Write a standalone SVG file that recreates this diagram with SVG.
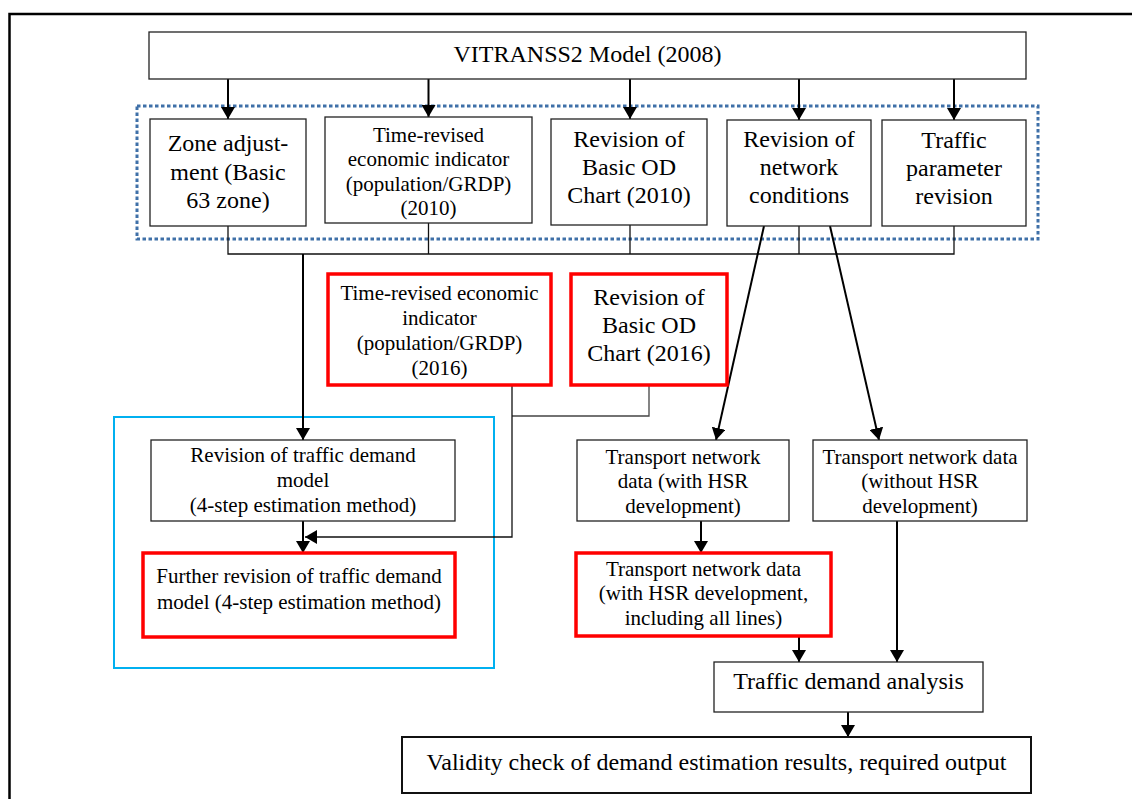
<svg xmlns="http://www.w3.org/2000/svg" width="1132" height="799" viewBox="0 0 1132 799">
<style>
text{font-family:"Liberation Serif","Times New Roman",serif;fill:#000;text-anchor:middle}
.big{font-size:24px}
.mid{font-size:21px}
.box{fill:#fff;stroke:#222;stroke-width:1.3}
.red{fill:#fff;stroke:#ff0000;stroke-width:3.5}
.ln{fill:none;stroke:#000;stroke-width:2}
.thin{fill:none;stroke:#111;stroke-width:1.3}
.gray{fill:none;stroke:#444;stroke-width:1.3}
</style>
<defs>
<marker id="ah" markerUnits="userSpaceOnUse" viewBox="0 0 12 14" refX="12" refY="7" markerWidth="12" markerHeight="14" orient="auto">
<path d="M0,0 L12,7 L0,14 Z" fill="#000"/>
</marker>
</defs>
<rect width="1132" height="799" fill="#fff"/>
<path d="M9.5,799 V14 H1132" fill="none" stroke="#000" stroke-width="2.5"/>
<rect x="137" y="106" width="901" height="133" fill="none" stroke="#3f70a8" stroke-width="3" stroke-dasharray="3.5 2.5"/>
<rect x="114" y="417" width="380" height="251" fill="none" stroke="#00b0f0" stroke-width="2"/>
<g id="connectors">
<path class="ln" d="M228,79 V119" marker-end="url(#ah)"/>
<path class="ln" d="M428.5,79 V117" marker-end="url(#ah)"/>
<path class="ln" d="M630,79 V119" marker-end="url(#ah)"/>
<path class="ln" d="M799,79 V120" marker-end="url(#ah)"/>
<path class="ln" d="M954,79 V120" marker-end="url(#ah)"/>
<path class="thin" d="M228,226 V254 H954 V226 M428.5,223 V254 M630,225 V254 M799,226 V254"/>
<path class="ln" d="M303,254 V440" marker-end="url(#ah)"/>
<path class="ln" d="M764,226 L716,440" marker-end="url(#ah)"/>
<path class="ln" d="M830,226 L879,440" marker-end="url(#ah)"/>
<path class="gray" d="M649,385 V416 H512"/>
<path class="thin" d="M512,385 V537 H305" marker-end="url(#ah)"/>
<path class="ln" d="M303,521 V553" marker-end="url(#ah)"/>
<path class="ln" d="M701,521 V553" marker-end="url(#ah)"/>
<path class="ln" d="M799,636 V662" marker-end="url(#ah)"/>
<path class="ln" d="M897,521 V662" marker-end="url(#ah)"/>
<path class="ln" d="M848,712 V737" marker-end="url(#ah)"/>
</g>
<g id="vitranss">
<rect class="box" x="149" y="32" width="877" height="47"/>
<text class="big" x="587.5" y="62">VITRANSS2 Model (2008)</text>
</g>
<g id="zone">
<rect class="box" x="150" y="119" width="156" height="107"/>
<text class="big" x="228" y="151">Zone adjust-</text>
<text class="big" x="228" y="179.5">ment (Basic</text>
<text class="big" x="228" y="208">63 zone)</text>
</g>
<g id="econ2010">
<rect class="box" x="325" y="117" width="207" height="106"/>
<text class="mid" x="428.5" y="141.5">Time-revised</text>
<text class="mid" x="428.5" y="166">economic indicator</text>
<text class="mid" x="428.5" y="190.5">(population/GRDP)</text>
<text class="mid" x="428.5" y="215">(2010)</text>
</g>
<g id="od2010">
<rect class="box" x="551" y="119" width="156" height="106"/>
<text class="big" x="629" y="147">Revision of</text>
<text class="big" x="629" y="175">Basic OD</text>
<text class="big" x="629" y="203">Chart (2010)</text>
</g>
<g id="network">
<rect class="box" x="727" y="120" width="144" height="106"/>
<text class="big" x="799" y="147">Revision of</text>
<text class="big" x="799" y="175">network</text>
<text class="big" x="799" y="203">conditions</text>
</g>
<g id="param">
<rect class="box" x="882" y="120" width="144" height="106"/>
<text class="big" x="954" y="148">Traffic</text>
<text class="big" x="954" y="176">parameter</text>
<text class="big" x="954" y="204">revision</text>
</g>
<g id="econ2016">
<rect class="red" x="328" y="274" width="223" height="111"/>
<text class="mid" x="439.5" y="300">Time-revised economic</text>
<text class="mid" x="439.5" y="325">indicator</text>
<text class="mid" x="439.5" y="350">(population/GRDP)</text>
<text class="mid" x="439.5" y="375">(2016)</text>
</g>
<g id="od2016">
<rect class="red" x="571" y="274" width="156" height="111"/>
<text class="big" x="649" y="305">Revision of</text>
<text class="big" x="649" y="333">Basic OD</text>
<text class="big" x="649" y="361">Chart (2016)</text>
</g>
<g id="demandmodel">
<rect class="box" x="151" y="440" width="304" height="81"/>
<text class="mid" x="303" y="462">Revision of traffic demand</text>
<text class="mid" x="303" y="487">model</text>
<text class="mid" x="303" y="512">(4-step estimation method)</text>
</g>
<g id="further">
<rect class="red" x="143" y="553" width="312" height="84"/>
<text class="mid" x="299" y="583">Further revision of traffic demand</text>
<text class="mid" x="299" y="609">model (4-step estimation method)</text>
</g>
<g id="withhsr">
<rect class="box" x="577" y="440" width="212" height="81"/>
<text class="mid" x="683" y="464">Transport network</text>
<text class="mid" x="683" y="488">data (with HSR</text>
<text class="mid" x="683" y="513">development)</text>
</g>
<g id="withouthsr">
<rect class="box" x="813" y="440" width="214" height="81"/>
<text class="mid" x="920" y="464">Transport network data</text>
<text class="mid" x="920" y="488">(without HSR</text>
<text class="mid" x="920" y="513">development)</text>
</g>
<g id="alllines">
<rect class="red" x="576" y="553" width="255" height="83"/>
<text class="mid" x="703.5" y="576">Transport network data</text>
<text class="mid" x="703.5" y="600">(with HSR development,</text>
<text class="mid" x="703.5" y="625">including all lines)</text>
</g>
<g id="analysis">
<rect class="box" x="714" y="662" width="269" height="50"/>
<text class="big" x="848.5" y="689">Traffic demand analysis</text>
</g>
<g id="validity">
<rect x="402" y="737" width="629" height="56" fill="#fff" stroke="#111" stroke-width="2"/>
<text class="big" x="716.5" y="770">Validity check of demand estimation results, required output</text>
</g>
</svg>
